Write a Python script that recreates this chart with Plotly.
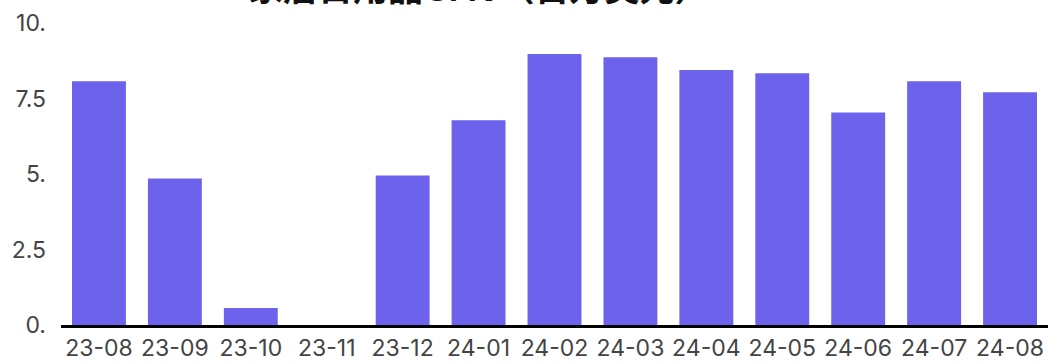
import plotly.graph_objects as go

categories = ["23-08", "23-09", "23-10", "23-11", "23-12", "24-01", "24-02",
              "24-03", "24-04", "24-05", "24-06", "24-07", "24-08"]
gmv = [8.07, 4.85, 0.56, 0.0, 4.95, 6.78, 8.97, 8.87, 8.44, 8.34, 7.04, 8.07, 7.71]
y_tick_vals = [0, 2.5, 5, 7.5, 10]
y_tick_text = ["0.", "2.5", "5.", "7.5", "10."]
title_text = "家居日用品GMV（百万美元）"

fig = go.Figure(go.Bar(x=categories, y=gmv, marker_color="#6c62ec", marker_line_width=0))

fig.update_layout(
    width=1048, height=371,
    margin=dict(l=61, r=0, t=30, b=39, autoexpand=False),
    paper_bgcolor="white", plot_bgcolor="white",
    bargap=0.29,
    showlegend=False,
    font=dict(family="Inter, Noto Sans CJK SC, sans-serif", color="#444444", size=23),
    annotations=[dict(text=title_text, xref="paper", yref="paper", x=0.423, y=1.0,
                      yshift=10, xanchor="center", yanchor="bottom", showarrow=False,
                      font=dict(size=35, color="#111111",
                                family="Noto Sans CJK SC, Inter, sans-serif", weight="bold"))],
)
fig.update_xaxes(type="category", showline=True, linecolor="black", linewidth=3, showgrid=False,
                 ticks="", automargin=False, ticklabelstandoff=0,
                 tickfont=dict(size=23, color="#444444"))
fig.update_yaxes(range=[0, 10], tickvals=y_tick_vals, ticktext=y_tick_text, showgrid=False,
                 zeroline=False, showline=False, ticks="", ticklabelstandoff=14, automargin=False,
                 tickfont=dict(size=23, color="#444444"))

fig.write_html("out.html", config={"displayModeBar": False},
               post_script="document.body.style.margin='0px'; document.body.style.marginTop='-7px';")
